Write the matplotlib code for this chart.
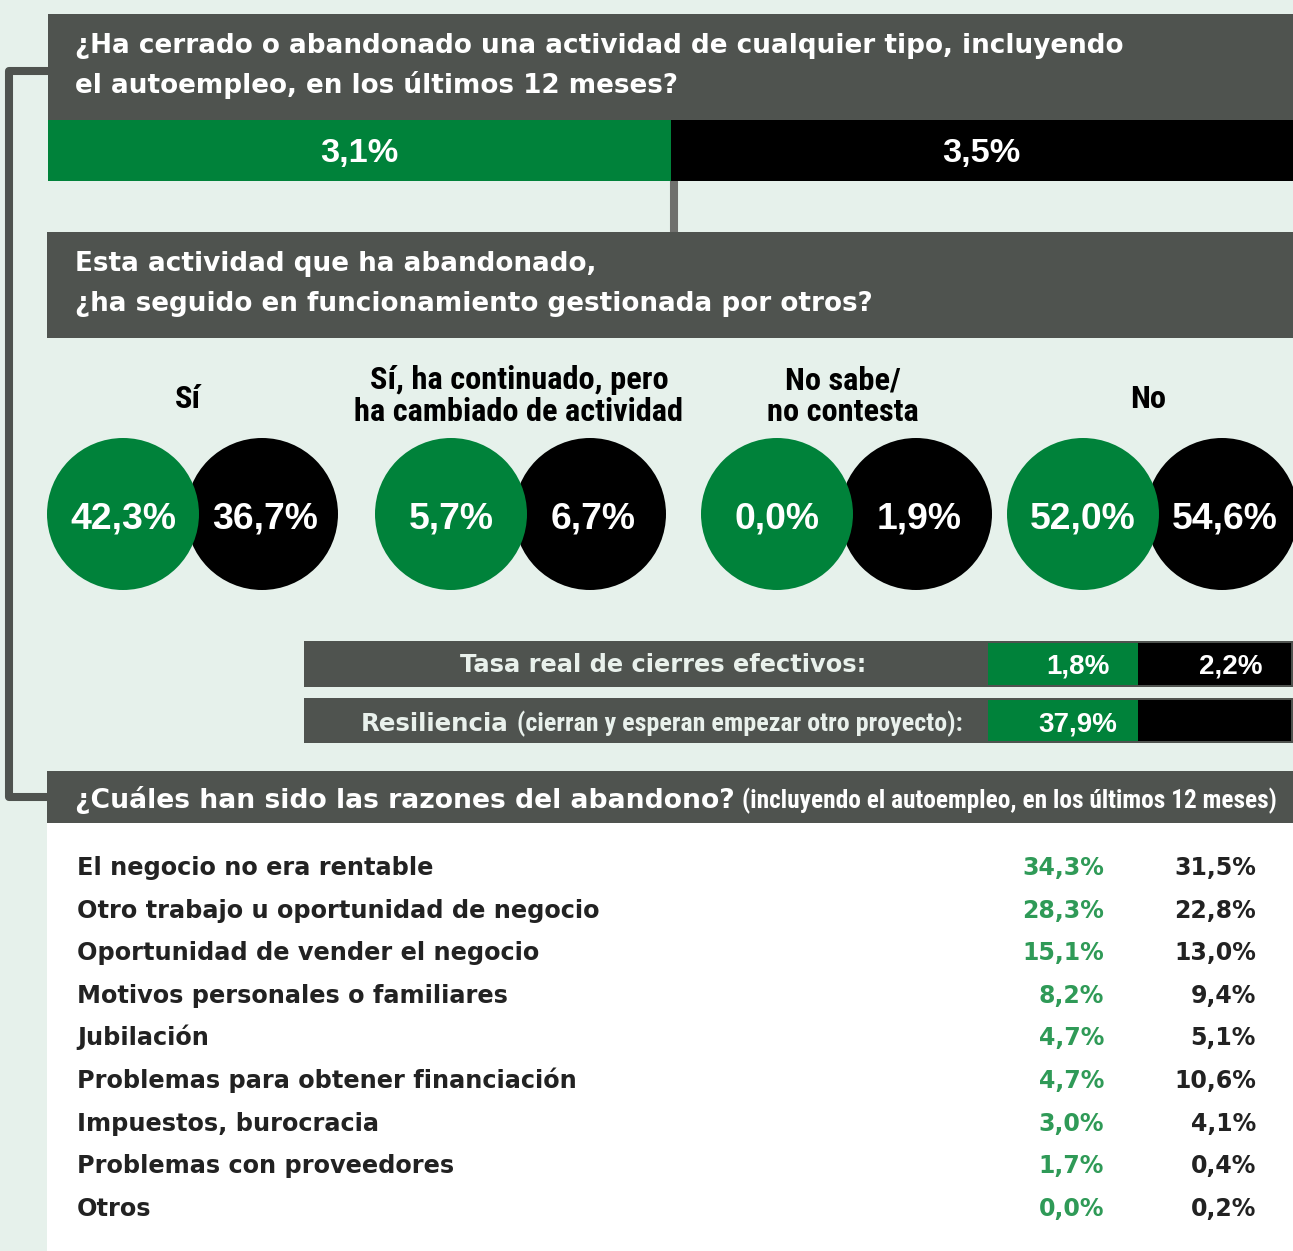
import matplotlib
matplotlib.use("Agg")
import matplotlib.pyplot as plt
from matplotlib.patches import Rectangle, Ellipse
from matplotlib.lines import Line2D
from matplotlib import font_manager as fm

# ---------------- data ----------------
q1_lines = ["¿Ha cerrado o abandonado una actividad de cualquier tipo, incluyendo",
            "el autoempleo, en los últimos 12 meses?"]
q1_values = [3.1, 3.5]

q2_lines = ["Esta actividad que ha abandonado,",
            "¿ha seguido en funcionamiento gestionada por otros?"]
q2_categories = ["Sí", "Sí, ha continuado, pero\nha cambiado de actividad", "No sabe/\nno contesta", "No"]
q2_green = [42.3, 5.7, 0.0, 52.0]
q2_black = [36.7, 6.7, 1.9, 54.6]

tasa_label = "Tasa real de cierres efectivos:"
tasa_values = [1.8, 2.2]
resil_label = "Resiliencia"
resil_sub = "(cierran y esperan empezar otro proyecto):"
resil_values = [37.9, None]

q3_title = "¿Cuáles han sido las razones del abandono?"
q3_sub = "(incluyendo el autoempleo, en los últimos 12 meses)"
reasons = ["El negocio no era rentable", "Otro trabajo u oportunidad de negocio",
           "Oportunidad de vender el negocio", "Motivos personales o familiares",
           "Jubilación", "Problemas para obtener financiación", "Impuestos, burocracia",
           "Problemas con proveedores", "Otros"]
reasons_green = [34.3, 28.3, 15.1, 8.2, 4.7, 4.7, 3.0, 1.7, 0.0]
reasons_black = [31.5, 22.8, 13.0, 9.4, 5.1, 10.6, 4.1, 0.4, 0.2]

# ---------------- style ----------------
BG = "#E6F1EB"
GREY = "#4F534F"
GREEN = "#00823A"
GREEN_TXT = "#2F9A57"
BLACK = "#000000"
CONN = "#6F706D"
TXT = "#222222"
LIGHT = "#E9F1EC"

ttf = fm.fontManager.ttflist


def pick(cands):
    for c in cands:
        if any(f.name == c and f.weight in (700, "bold") for f in ttf):
            return c
    return None


COND = pick(["Roboto Condensed", "Pragati Narrow", "Barlow Semi Condensed",
             "Asap Condensed", "Encode Sans Condensed"]) or "DejaVu Sans"
COND_FAM = [COND, "DejaVu Sans"]
WIDE_FAM = ["DejaVu Sans"]
NUM_FAM = ["Liberation Sans", "DejaVu Sans"]
plt.rcParams["font.family"] = WIDE_FAM


def fmt(v):
    return f"{v:.1f}".replace(".", ",") + "%"


W, H = 1293, 1251
fig = plt.figure(figsize=(W / 100, H / 100), dpi=100)
fig.patch.set_facecolor(BG)
ax = fig.add_axes([0, 0, 1, 1])
ax.set_xlim(0, W)
ax.set_ylim(H, 0)
ax.axis("off")
renderer = fig.canvas.get_renderer()


def fit(t, width):
    """scale font size of text t so that it spans `width` pixels"""
    for _ in range(2):
        bb = t.get_window_extent(renderer)
        t.set_fontsize(t.get_fontsize() * width / bb.width)
    return t.get_fontsize()


def rect(x0, y0, x1, y1, c, z=1):
    ax.add_patch(Rectangle((x0, y0), x1 - x0, y1 - y0, facecolor=c, edgecolor="none", zorder=z))


# left bracket and connector
ax.add_line(Line2D([48, 9, 9, 48], [71, 71, 797, 797], color=GREY, lw=5.8,
                   solid_joinstyle="round", solid_capstyle="butt", zorder=1))
ax.add_line(Line2D([674, 674], [181, 232], color=CONN, lw=5.8, zorder=1))

# ---- header 1 ----
rect(48, 14, W, 120, GREY)
t = ax.text(75, 53, q1_lines[0], color="white", fontsize=20, fontweight="bold",
            ha="left", va="baseline", zorder=3)
fs_head = fit(t, 1052)
ax.text(75, 93, q1_lines[1], color="white", fontsize=fs_head, fontweight="bold",
        ha="left", va="baseline", zorder=3)

split = (48 + W) / 2
rect(48, 120, split, 181, GREEN, 2)
rect(split, 120, W, 181, BLACK, 2)
t = ax.text((48 + split) / 2, 162, fmt(q1_values[0]), color="white", fontsize=23,
            fontweight="bold", family=NUM_FAM, ha="center", va="baseline", zorder=3)
fs_bar = fit(t, 78)
ax.text((split + W) / 2, 162, fmt(q1_values[1]), color="white", fontsize=fs_bar,
        fontweight="bold", family=NUM_FAM, ha="center", va="baseline", zorder=3)

# ---- header 2 ----
rect(47, 232, W, 338, GREY)
for i, line in enumerate(q2_lines):
    ax.text(75, 271 + 40 * i, line, color="white", fontsize=fs_head, fontweight="bold",
            ha="left", va="baseline", zorder=3)

label_x = [188, 519, 843, 1148]
green_cx = [123, 451, 777, 1083]
gap = 139
R = 76
probe = ax.text(0, -100, "ha cambiado de actividad", fontsize=21, fontweight="bold",
                family=COND_FAM, fontstretch="condensed")
fs_cat = fit(probe, 328)
probe.remove()
probe = ax.text(0, -100, fmt(q2_green[0]), fontsize=26, fontweight="bold", family=NUM_FAM)
fs_circ = fit(probe, 106)
probe.remove()

for k, cat in enumerate(q2_categories):
    lines = cat.split("\n")
    ys = [408] if len(lines) == 1 else [389, 421]
    for ln, yy in zip(lines, ys):
        ax.text(label_x[k], yy, ln, color=BLACK, fontsize=fs_cat, fontweight="bold",
                family=COND_FAM, fontstretch="condensed", ha="center", va="baseline", zorder=3)
    gx = green_cx[k]
    bx = gx + gap
    ax.add_patch(Ellipse((bx, 514), 2 * R, 2 * R, facecolor=BLACK, edgecolor="none", zorder=2))
    ax.add_patch(Ellipse((gx, 514), 2 * R, 2 * R, facecolor=GREEN, edgecolor="none", zorder=3))
    ax.text(gx, 528, fmt(q2_green[k]), color="white", fontsize=fs_circ, fontweight="bold",
            family=NUM_FAM, ha="center", va="baseline", zorder=4)
    ax.text(bx + 3, 528, fmt(q2_black[k]), color="white", fontsize=fs_circ, fontweight="bold",
            family=NUM_FAM, ha="center", va="baseline", zorder=4)

# ---- rate rows ----
for (y0, y1) in [(641, 687), (698, 743)]:
    rect(304, y0, W, y1, GREY)
    rect(988, y0 + 2, 1138, y1 - 2, GREEN, 2)
    rect(1138, y0 + 2, W - 2, y1 - 2, BLACK, 2)

t = ax.text(663, 672, tasa_label, color=LIGHT, fontsize=17, fontweight="bold",
            ha="center", va="baseline", zorder=3)
fit(t, 406)
t = ax.text(1110, 673, fmt(tasa_values[0]), color="white", fontsize=18, fontweight="bold",
            family=NUM_FAM, ha="right", va="baseline", zorder=3)
fs_rate = fit(t, 63)
ax.text(1262, 673, fmt(tasa_values[1]), color="white", fontsize=fs_rate, fontweight="bold",
        family=NUM_FAM, ha="right", va="baseline", zorder=3)

t_sub = ax.text(963, 731, resil_sub, color=LIGHT, fontsize=16, fontweight="bold",
                family=COND_FAM, fontstretch="condensed", ha="right", va="baseline", zorder=3)
fit(t_sub, 444)
t_res = ax.annotate(resil_label, xy=(0, 731), xycoords=(t_sub, "data"), xytext=(-6, 0),
                    textcoords="offset points", color=LIGHT, fontsize=18, fontweight="bold",
                    ha="right", va="baseline", zorder=3)
fit(t_res, 148)
ax.text(1117, 731, fmt(resil_values[0]), color="white", fontsize=fs_rate, fontweight="bold",
        family=NUM_FAM, ha="right", va="baseline", zorder=3)

# ---- header 3 ----
rect(47, 771, W, 823, GREY)
t3 = ax.text(75, 808, q3_title, color="white", fontsize=19.5, fontweight="bold",
             ha="left", va="baseline", zorder=3)
fit(t3, 658)
t3s = ax.annotate(q3_sub, xy=(1, 808), xycoords=(t3, "data"), xytext=(5, 0),
                  textcoords="offset points", color="white", fontsize=15.5, fontweight="bold",
                  family=COND_FAM, fontstretch="condensed", ha="left", va="baseline", zorder=3)
fit(t3s, 536)

# ---- reasons panel ----
rect(47, 823, W, H, "white")
probe = ax.text(0, -100, reasons[1], fontsize=18, fontweight="bold")
fs_reason = fit(probe, 524)
probe.remove()
probe = ax.text(0, -100, fmt(reasons_green[0]), fontsize=18, fontweight="bold")
fs_rval = fit(probe, 82)
probe.remove()
row0, step = 875, 42.6
for i, lab in enumerate(reasons):
    y = row0 + step * i
    ax.text(77, y, lab, color=TXT, fontsize=fs_reason, fontweight="bold",
            ha="left", va="baseline", zorder=3)
    ax.text(1104, y, fmt(reasons_green[i]), color=GREEN_TXT, fontsize=fs_rval, fontweight="bold",
            ha="right", va="baseline", zorder=3)
    ax.text(1256, y, fmt(reasons_black[i]), color=TXT, fontsize=fs_rval, fontweight="bold",
            ha="right", va="baseline", zorder=3)

fig.savefig("out.png", dpi=100, facecolor=BG)
